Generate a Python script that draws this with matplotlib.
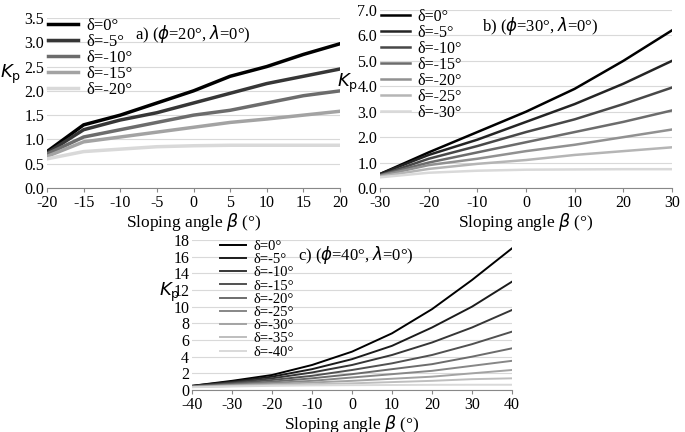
import matplotlib
matplotlib.use("Agg")
import matplotlib.pyplot as plt
import numpy as np

plt.rcParams['font.family'] = 'Liberation Serif'
plt.rcParams['axes.unicode_minus'] = False

beta_a = [-20, -15, -10, -5, 0, 5, 10, 15, 20]
deltas_a = ["0", "-5", "-10", "-15", "-20"]
kp_a = [
    [0.75, 1.3, 1.5, 1.75, 2.0, 2.3, 2.5, 2.75, 2.97],
    [0.72, 1.2, 1.4, 1.55, 1.75, 1.95, 2.15, 2.3, 2.45],
    [0.7, 1.05, 1.2, 1.35, 1.5, 1.6, 1.75, 1.9, 2.0],
    [0.65, 0.95, 1.05, 1.15, 1.25, 1.35, 1.42, 1.5, 1.58],
    [0.6, 0.75, 0.8, 0.85, 0.87, 0.88, 0.88, 0.88, 0.88],
]
beta_b = [-30, -20, -10, 0, 10, 20, 30]
deltas_b = ["0", "-5", "-10", "-15", "-20", "-25", "-30"]
kp_b = [
    [0.55, 1.4, 2.2, 3.0, 3.9, 5.0, 6.2],
    [0.55, 1.3, 1.9, 2.6, 3.3, 4.1, 5.0],
    [0.5, 1.15, 1.65, 2.2, 2.7, 3.3, 3.95],
    [0.5, 1.0, 1.4, 1.8, 2.2, 2.6, 3.05],
    [0.48, 0.9, 1.15, 1.45, 1.7, 2.0, 2.3],
    [0.45, 0.75, 0.95, 1.1, 1.3, 1.45, 1.6],
    [0.42, 0.6, 0.68, 0.72, 0.73, 0.74, 0.74],
]
beta_c = [-40, -30, -20, -10, 0, 10, 20, 30, 40]
deltas_c = ["0", "-5", "-10", "-15", "-20", "-25", "-30", "-35", "-40"]
kp_c = [
    [0.5, 1.1, 1.8, 3.0, 4.6, 6.8, 9.7, 13.2, 17.0],
    [0.5, 1.0, 1.6, 2.5, 3.7, 5.3, 7.5, 10.0, 13.0],
    [0.45, 0.9, 1.4, 2.1, 3.0, 4.2, 5.7, 7.5, 9.6],
    [0.45, 0.8, 1.2, 1.7, 2.4, 3.2, 4.2, 5.5, 7.0],
    [0.4, 0.7, 1.0, 1.4, 1.9, 2.5, 3.1, 4.0, 5.0],
    [0.4, 0.6, 0.85, 1.1, 1.5, 1.9, 2.3, 2.9, 3.5],
    [0.38, 0.55, 0.7, 0.9, 1.1, 1.35, 1.6, 2.0, 2.4],
    [0.35, 0.48, 0.6, 0.7, 0.8, 0.95, 1.1, 1.3, 1.4],
    [0.33, 0.42, 0.5, 0.55, 0.58, 0.6, 0.62, 0.63, 0.63],
]

W, H = 685, 432
fig = plt.figure(figsize=(W/100, H/100), dpi=100)

def ax_at(l, t, r, b):
    return fig.add_axes([l/W, 1-b/H, (r-l)/W, (b-t)/H])

def panel(ax, beta, deltas, kp, xlim, xt, ylim, yt, yfmt, title, tx, lw, legx, fs):
    n = len(deltas)
    for i, (d, v) in enumerate(zip(deltas, kp)):
        g = 0.0 + 0.85 * i / (n - 1)
        ax.plot(beta, v, color=str(g), lw=lw, label="δ=%s°" % d)
    ax.set_xlim(*xlim); ax.set_ylim(*ylim)
    ax.set_xticks(xt); ax.set_yticks(yt)
    ax.set_yticklabels([yfmt % y for y in yt])
    ax.yaxis.grid(True, color='#d9d9d9', lw=0.8)
    ax.set_axisbelow(True)
    for s in ['top', 'right', 'left']:
        ax.spines[s].set_visible(False)
    ax.spines['bottom'].set_color('#888888')
    ax.tick_params(length=0, labelsize=11.5, pad=2)
    ax.tick_params(axis='x', length=3, color='#888888', direction='out')
    ax.set_xlabel("Sloping angle $\\beta$ (°)", fontsize=12.5, labelpad=0)
    ax.text(tx, 0.97, title, transform=ax.transAxes, fontsize=12, va='top')
    ax.legend(loc='upper left', bbox_to_anchor=(legx, 1.06), frameon=False, fontsize=fs,
              handlelength=1.8, handletextpad=0.5, labelspacing=0.0, borderaxespad=0.2)

axa = ax_at(47, 18, 340, 188)
panel(axa, beta_a, deltas_a, kp_a, (-20, 20), range(-20, 21, 5), (0, 3.5),
      np.arange(0, 3.51, 0.5), "%.1f", "a) ($\\phi$=20°, $\\lambda$=0°)", 0.3, 2.5, -0.03, 12)
axa.set_ylabel("$K_\\mathrm{p}$", fontsize=13, rotation=0)
axa.yaxis.set_label_coords(-0.125, 0.6)

axb = ax_at(380, 10, 672, 188)
panel(axb, beta_b, deltas_b, kp_b, (-30, 30), range(-30, 31, 10), (0, 7),
      np.arange(0, 7.01, 1.0), "%.1f", "b) ($\\phi$=30°, $\\lambda$=0°)", 0.35, 1.8, -0.03, 11.5)
axb.set_ylabel("$K_\\mathrm{p}$", fontsize=13, rotation=0)
axb.yaxis.set_label_coords(-0.11, 0.52)

axc = ax_at(192, 240, 512, 390)
panel(axc, beta_c, deltas_c, kp_c, (-40, 40), range(-40, 41, 10), (0, 18),
      range(0, 19, 2), "%d", "c) ($\\phi$=40°, $\\lambda$=0°)", 0.33, 1.4, 0.06, 10.5)
axc.set_ylabel("$K_\\mathrm{p}$", fontsize=13, rotation=0)
axc.yaxis.set_label_coords(-0.07, 0.57)

fig.savefig("out.png", dpi=100)
